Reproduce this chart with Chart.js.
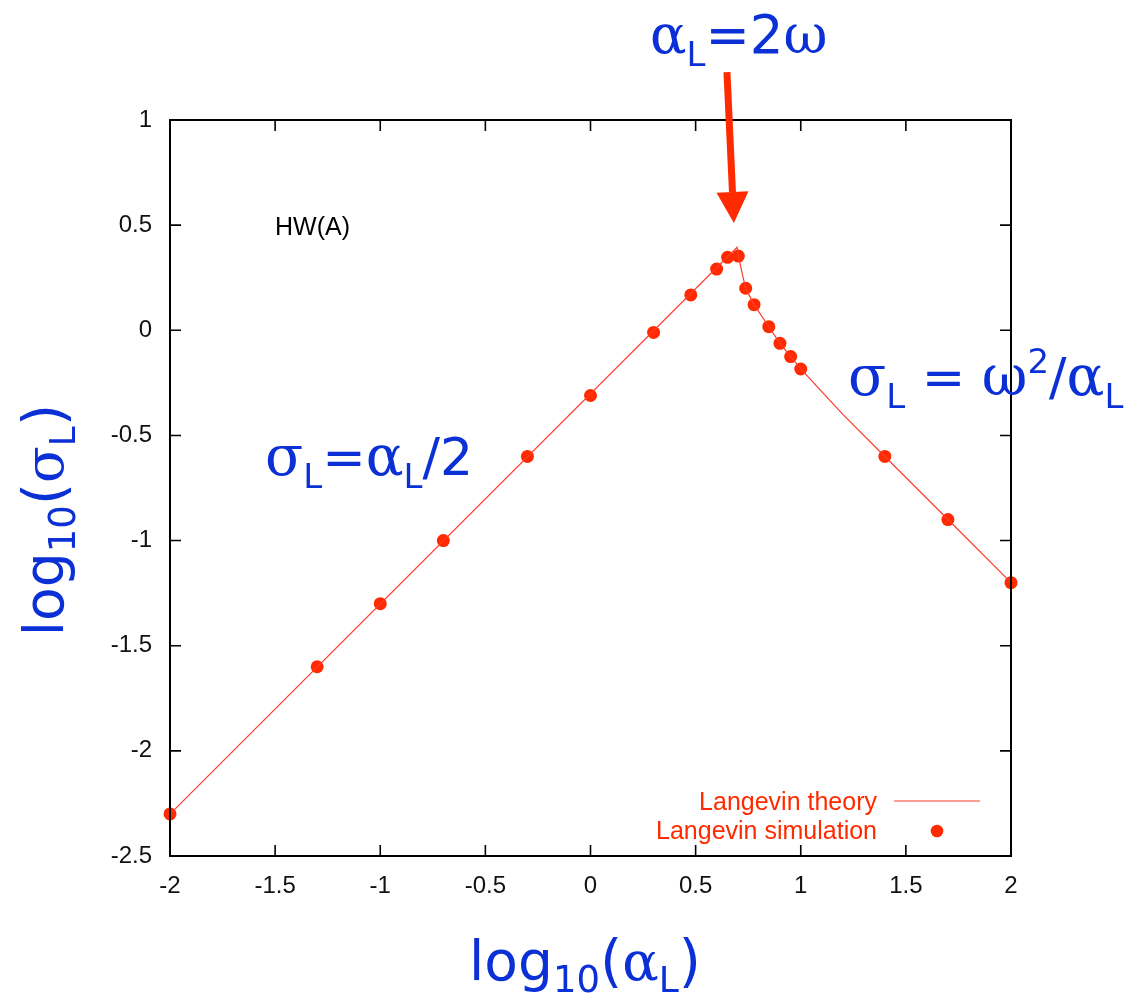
<!DOCTYPE html>
<html><head><meta charset="utf-8">
<script src="https://cdn.jsdelivr.net/npm/chart.js@4.4.1/dist/chart.umd.min.js"></script>
<style>html,body{margin:0;padding:0;background:#fff;}canvas{display:block}</style>
</head><body>
<canvas id="c" width="1128" height="998"></canvas>
<script>
// ---- data ----
const xTicks = [-2, -1.5, -1, -0.5, 0, 0.5, 1, 1.5, 2];
const yTicks = [-2.5, -2, -1.5, -1, -0.5, 0, 0.5, 1];
const simX = [-2, -1.3, -1, -0.7, -0.3, 0, 0.3, 0.477, 0.6, 0.652, 0.703, 0.738, 0.778, 0.848, 0.901, 0.952, 1.0, 1.4, 1.7, 2];
const simY = [-2.30, -1.60, -1.30, -1.00, -0.60, -0.31, -0.01, 0.168, 0.291, 0.347, 0.353, 0.20, 0.122, 0.017, -0.062, -0.125, -0.184, -0.60, -0.90, -1.20];
const theoryX = [-2, 0.697, 0.705, 0.715, 0.725, 0.738, 0.778, 0.848, 0.901, 0.952, 1.0, 1.2, 1.4, 1.7, 2];
const theoryY = [-2.301, 0.395, 0.35, 0.30, 0.255, 0.20, 0.122, 0.017, -0.062, -0.125, -0.184, -0.40, -0.60, -0.90, -1.20];
const seriesNames = ['Langevin theory', 'Langevin simulation'];
const panelLabel = 'HW(A)';
const arrowFrom = [0.649, 1.228];
const arrowTo = [0.682, 0.51];

const RED = '#ff2a00';
const LINE_RED = '#ff3b2b';
const BLUE = '#0b30d6';
const SANS = 'DejaVu Sans';
const GREEK = 'DejaVu Serif';

function runs(ctx, list, x, y, align) {
  let w = 0;
  for (const r of list) { ctx.font = r[1]; w += ctx.measureText(r[0]).width; }
  let cx = align === 'center' ? x - w / 2 : (align === 'right' ? x - w : x);
  ctx.textAlign = 'left';
  ctx.textBaseline = 'alphabetic';
  for (const r of list) {
    ctx.font = r[1];
    ctx.fillText(r[0], cx, y + (r[2] || 0));
    cx += ctx.measureText(r[0]).width;
  }
}
function F(size, fam) { return size + 'px "' + fam + '", "Liberation Serif", serif'; }

const overlay = {
  id: 'overlay',
  afterDraw(chart) {
    const ctx = chart.ctx;
    const a = chart.chartArea;
    const xs = chart.scales.x, ys = chart.scales.y;
    ctx.save();
    ctx.strokeStyle = '#000';
    ctx.lineWidth = 2;
    ctx.strokeRect(a.left, a.top, a.right - a.left, a.bottom - a.top);
    ctx.lineWidth = 1.6;
    const TL = 11;
    ctx.beginPath();
    for (const v of xTicks) {
      const px = xs.getPixelForValue(v);
      ctx.moveTo(px, a.bottom); ctx.lineTo(px, a.bottom - TL);
      ctx.moveTo(px, a.top); ctx.lineTo(px, a.top + TL);
    }
    for (const v of yTicks) {
      const py = ys.getPixelForValue(v);
      ctx.moveTo(a.left, py); ctx.lineTo(a.left + TL, py);
      ctx.moveTo(a.right, py); ctx.lineTo(a.right - TL, py);
    }
    ctx.stroke();

    ctx.fillStyle = '#000';
    ctx.font = '25px "Liberation Sans", Arial, sans-serif';
    ctx.textAlign = 'left'; ctx.textBaseline = 'alphabetic';
    ctx.fillText(panelLabel, 275, 235);

    ctx.fillStyle = RED;
    ctx.font = '25px "Liberation Sans", Arial, sans-serif';
    ctx.textAlign = 'right';
    ctx.fillText(seriesNames[0], 877, 810);
    ctx.fillText(seriesNames[1], 877, 839);
    ctx.strokeStyle = LINE_RED; ctx.lineWidth = 1.2;
    ctx.beginPath(); ctx.moveTo(894, 801); ctx.lineTo(980, 801); ctx.stroke();
    ctx.beginPath(); ctx.arc(937, 831, 6.3, 0, Math.PI * 2); ctx.fill();

    const x0 = xs.getPixelForValue(arrowFrom[0]), y0 = ys.getPixelForValue(arrowFrom[1]);
    const x1 = xs.getPixelForValue(arrowTo[0]), y1 = ys.getPixelForValue(arrowTo[1]);
    const ang = Math.atan2(y1 - y0, x1 - x0);
    const HL = 31, HW = 16;
    const bx = x1 - HL * Math.cos(ang), by = y1 - HL * Math.sin(ang);
    ctx.strokeStyle = RED; ctx.fillStyle = RED; ctx.lineWidth = 7; ctx.lineCap = 'butt';
    ctx.beginPath(); ctx.moveTo(x0, y0); ctx.lineTo(bx, by); ctx.stroke();
    ctx.beginPath();
    ctx.moveTo(x1, y1);
    ctx.lineTo(bx + HW * Math.sin(ang), by - HW * Math.cos(ang));
    ctx.lineTo(bx - HW * Math.sin(ang), by + HW * Math.cos(ang));
    ctx.closePath(); ctx.fill();

    ctx.fillStyle = BLUE;
    runs(ctx, [['α', F(54, GREEK)], ['L', F(34, SANS), 13], ['=2', F(53, SANS)], ['ω', F(54, GREEK)]], 650, 53, 'left');
    runs(ctx, [['σ', F(56, GREEK)], ['L', F(34, SANS), 13], ['=', F(52, SANS)], ['α', F(56, GREEK)], ['L', F(34, SANS), 13], ['/2', F(52, SANS)]], 265, 475, 'left');
    runs(ctx, [['σ', F(56, GREEK)], ['L', F(34, SANS), 13], [' = ', F(52, SANS)], ['ω', F(56, GREEK)], ['2', F(34, SANS), -22], ['/', F(52, SANS)], ['α', F(56, GREEK)], ['L', F(34, SANS), 13]], 848, 395, 'left');

    const title = (g) => [['log', F(55, SANS)], ['10', F(37, SANS), 12], ['(', F(57, SANS)], [g, F(54, GREEK)], ['L', F(36, SANS), 12], [')', F(57, SANS)]];
    runs(ctx, title('α'), 585, 980, 'center');
    ctx.save();
    ctx.translate(63, 520);
    ctx.rotate(-Math.PI / 2);
    runs(ctx, title('σ'), 0, 0, 'center');
    ctx.restore();
    ctx.restore();
  }
};

new Chart(document.getElementById('c'), {
  type: 'scatter',
  data: {
    datasets: [
      {
        label: seriesNames[0],
        data: theoryX.map((x, i) => ({ x, y: theoryY[i] })),
        showLine: true, borderColor: LINE_RED, borderWidth: 1.2,
        pointRadius: 0, tension: 0, clip: false
      },
      {
        label: seriesNames[1],
        data: simX.map((x, i) => ({ x, y: simY[i] })),
        showLine: false, pointRadius: 6.5, pointBackgroundColor: RED,
        pointBorderWidth: 0, pointBorderColor: RED, clip: false
      }
    ]
  },
  options: {
    responsive: false, animation: false, devicePixelRatio: 1,
    layout: { padding: { top: 120, right: 117, left: 0, bottom: 0 } },
    plugins: { legend: { display: false }, tooltip: { enabled: false } },
    scales: {
      x: {
        type: 'linear', min: -2, max: 2,
        afterBuildTicks: s => { s.ticks = xTicks.map(v => ({ value: v })); },
        afterFit: s => { s.height = 142; },
        ticks: { font: { family: '"Liberation Sans", Arial, sans-serif', size: 24 }, color: '#111', padding: 16, maxRotation: 0, autoSkip: false, callback: v => String(v) },
        grid: { display: false, drawTicks: false }, border: { display: false }
      },
      y: {
        type: 'linear', min: -2.5, max: 1,
        afterBuildTicks: s => { s.ticks = yTicks.map(v => ({ value: v })); },
        afterFit: s => { s.width = 170; },
        ticks: { font: { family: '"Liberation Sans", Arial, sans-serif', size: 24 }, color: '#111', padding: 18, autoSkip: false, callback: v => String(v) },
        grid: { display: false, drawTicks: false }, border: { display: false }
      }
    }
  },
  plugins: [overlay]
});
</script>
</body></html>
